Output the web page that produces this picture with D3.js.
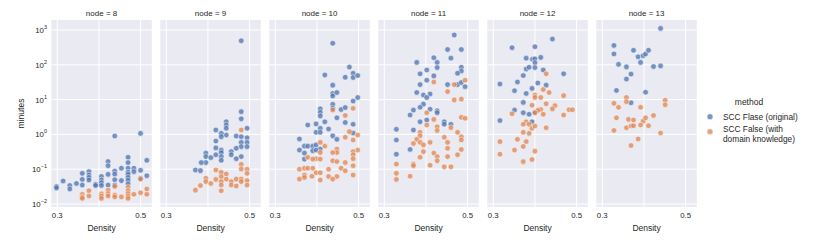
<!DOCTYPE html>
<html>
<head>
<meta charset="utf-8">
<script src="https://cdn.jsdelivr.net/npm/d3@7"></script>
<style>
  body { margin: 0; background: #fff; }
  text { font-family: "Liberation Sans", Arial, sans-serif; fill: #262626; }
</style>
</head>
<body>
<svg id="chart" width="830" height="243"></svg>
<script>
// facet values and tick labels
var nodes = [8, 9, 10, 11, 12, 13];
var methods = ["SCC Flase (original)", "SCC False (with domain knowledge)"];
var xTicks = [0.3, 0.4, 0.5];
var xTickLabels = ["0.3", "", "0.5"];
var yTicks = [-2, -1, 0, 1, 2, 3];

// [density, minutes] per node, original method
var orig8 = [[0.298,0.032],[0.298,0.029],[0.314,0.046],[0.33,0.034],[0.33,0.027],[0.346,0.039],
  [0.36,0.076],[0.36,0.051],[0.36,0.035],[0.376,0.085],[0.376,0.068],[0.376,0.058],[0.376,0.049],
  [0.392,0.037],[0.392,0.034],[0.406,0.062],[0.406,0.049],[0.406,0.041],[0.406,0.034],
  [0.422,0.166],[0.422,0.126],[0.422,0.071],[0.422,0.035],
  [0.438,0.9],[0.438,0.089],[0.438,0.072],[0.438,0.05],[0.438,0.035],[0.454,0.107],[0.454,0.047],
  [0.47,0.22],[0.47,0.155],[0.47,0.107],[0.47,0.082],[0.47,0.071],[0.47,0.058],[0.47,0.048],[0.47,0.038],
  [0.484,0.107],[0.484,0.085],[0.5,1.07],[0.5,0.093],[0.5,0.055],[0.515,0.18],[0.515,0.065]];
var orig9 = [[0.48,490],[0.48,4.5],[0.48,2.8],[0.444,2.3],[0.444,1.86],[0.444,1.5],[0.444,0.96],
  [0.432,1.07],[0.432,0.86],[0.419,1.34],[0.419,0.645],[0.419,0.41],[0.419,0.26],
  [0.432,0.355],[0.432,0.3],[0.432,0.23],[0.432,0.18],[0.494,1.5],[0.468,0.9],
  [0.48,0.86],[0.48,0.59],[0.48,0.445],[0.48,0.23],[0.494,0.8],[0.494,0.59],[0.494,0.445],
  [0.468,0.4],[0.468,0.2],[0.456,0.32],[0.456,0.26],[0.395,0.29],[0.395,0.23],[0.395,0.155],
  [0.407,0.215],[0.384,0.155],[0.37,0.095],[0.382,0.091]];
var orig10 = [[0.438,415],[0.478,86],[0.487,57],[0.487,43],[0.498,49],[0.468,44],[0.419,51],
  [0.438,26],[0.438,15],[0.438,12.7],[0.448,16],[0.438,7.3],[0.438,5.6],[0.458,5.2],[0.468,5.9],
  [0.498,11.5],[0.487,9.1],[0.408,5.4],[0.408,4.3],[0.408,3.4],[0.448,3.0],[0.468,2.2],[0.487,1.95],
  [0.419,2.3],[0.378,1.86],[0.398,2.0],[0.408,1.5],[0.398,1.15],[0.408,1.15],[0.428,1.43],
  [0.438,0.91],[0.448,0.72],[0.487,1.1],[0.358,0.74],[0.358,0.355],[0.37,0.46],[0.378,0.46],
  [0.39,0.46],[0.398,0.5],[0.37,0.29],[0.39,0.34],[0.408,0.38],[0.398,0.355],[0.37,0.195]];
var orig11 = [[0.468,720],[0.452,275],[0.485,275],[0.419,160],[0.46,155],[0.378,117],[0.427,117],
  [0.427,83],[0.485,85],[0.485,66],[0.476,57],[0.402,71],[0.386,55],[0.419,48],
  [0.402,36],[0.386,27],[0.452,27],[0.476,27],[0.485,31],[0.494,23.5],
  [0.378,16],[0.394,13.5],[0.41,14.5],[0.402,11.5],[0.394,7.4],[0.386,6.0],[0.37,5.0],[0.362,3.6],
  [0.41,5.3],[0.427,4.8],[0.427,4.2],[0.402,2.6],[0.386,2.3],[0.444,2.3],[0.444,1.95],[0.46,1.95],
  [0.329,1.4],[0.37,1.34],[0.329,0.69],[0.329,0.27],[0.362,0.37]];
var orig12 = [[0.442,550],[0.345,310],[0.40,330],[0.379,155],[0.394,145],[0.40,148],[0.40,115],
  [0.414,163],[0.379,76],[0.386,85],[0.40,83],[0.42,71],[0.372,49],[0.469,55],
  [0.316,28],[0.358,32],[0.407,30],[0.427,26],[0.351,18],[0.393,21],[0.379,15],[0.372,8.3],
  [0.351,5.0],[0.372,4.2],[0.386,3.8],[0.40,4.3],[0.316,2.5],[0.393,2.3]];
var orig13 = [[0.44,1110],[0.328,360],[0.328,205],[0.375,262],[0.386,170],[0.398,182],[0.404,205],
  [0.411,262],[0.392,117],[0.339,103],[0.358,87],[0.423,89],[0.44,93],[0.369,54],[0.358,39],
  [0.334,18.3],[0.404,16.3],[0.369,8.1]];

// [density, minutes] per node, with domain knowledge
var dk8 = [[0.36,0.019],[0.36,0.016],[0.36,0.0145],[0.376,0.024],[0.376,0.017],
  [0.406,0.0195],[0.406,0.017],[0.406,0.0145],[0.422,0.025],[0.422,0.02],[0.422,0.017],
  [0.438,0.032],[0.438,0.018],[0.438,0.016],[0.454,0.016],
  [0.47,0.03],[0.47,0.024],[0.47,0.02],[0.47,0.017],[0.47,0.0145],[0.484,0.019],
  [0.5,0.052],[0.5,0.021],[0.515,0.027],[0.515,0.019]];
var dk9 = [[0.48,1.34],[0.419,0.095],[0.432,0.081],[0.432,0.061],[0.432,0.044],[0.432,0.035],
  [0.432,0.024],[0.444,0.073],[0.444,0.052],[0.419,0.051],[0.395,0.055],[0.395,0.044],
  [0.407,0.039],[0.382,0.034],[0.37,0.025],[0.456,0.044],[0.456,0.035],[0.468,0.052],[0.468,0.033],
  [0.48,0.138],[0.48,0.102],[0.48,0.052],[0.48,0.044],[0.494,0.1],[0.494,0.076],[0.494,0.047],[0.494,0.035]];
var dk10 = [[0.438,5.0],[0.487,5.6],[0.468,3.5],[0.478,1.2],[0.468,0.83],[0.498,0.96],[0.487,0.69],
  [0.408,0.59],[0.419,0.46],[0.448,0.38],[0.448,0.3],[0.438,0.3],
  [0.498,0.355],[0.487,0.32],[0.487,0.26],[0.487,0.2],[0.408,0.3],[0.398,0.2],[0.408,0.195],
  [0.378,0.22],[0.39,0.195],[0.438,0.175],[0.448,0.166],[0.468,0.155],[0.487,0.126],
  [0.358,0.1],[0.37,0.107],[0.378,0.107],[0.39,0.107],[0.428,0.1],[0.458,0.107],[0.468,0.09],
  [0.398,0.079],[0.408,0.079],[0.37,0.068],[0.388,0.063],[0.358,0.052],[0.37,0.058],
  [0.428,0.062],[0.448,0.062],[0.438,0.052],[0.408,0.049],[0.487,0.068]];
var dk11 = [[0.494,36],[0.468,27],[0.452,17],[0.419,32],[0.468,9.8],[0.485,10.3],
  [0.402,4.2],[0.419,2.7],[0.485,3.1],[0.494,2.9],[0.402,1.86],[0.427,1.66],[0.427,1.29],
  [0.46,1.55],[0.476,1.15],[0.386,1.15],[0.386,0.91],[0.444,0.83],[0.485,0.86],[0.485,0.69],
  [0.378,0.72],[0.386,0.59],[0.41,0.59],[0.452,0.59],[0.394,0.5],[0.37,0.55],
  [0.394,0.32],[0.485,0.37],[0.419,0.29],[0.452,0.4],[0.452,0.23],[0.476,0.26],
  [0.386,0.22],[0.427,0.23],[0.427,0.175],[0.329,0.14],[0.37,0.14],[0.37,0.126],
  [0.41,0.13],[0.444,0.117],[0.46,0.117],[0.329,0.076],[0.329,0.051],[0.362,0.063]];
var dk12 = [[0.427,55],[0.42,19.5],[0.434,16],[0.469,13],[0.40,13.5],[0.40,11.5],
  [0.414,11.5],[0.427,7.6],[0.448,6.7],[0.442,5.4],[0.393,6.9],[0.414,5.2],
  [0.482,5.1],[0.49,5.1],[0.469,3.6],[0.345,3.9],[0.407,4.9],[0.40,4.2],[0.42,3.8],
  [0.379,2.3],[0.372,1.95],[0.386,1.95],[0.393,1.5],[0.40,1.74],[0.427,1.55],
  [0.386,1.07],[0.372,1.15],[0.358,0.72],[0.379,0.62],[0.316,0.62],[0.372,0.45],
  [0.351,0.355],[0.40,0.33],[0.316,0.27],[0.372,0.165],[0.393,0.19]];
var dk13 = [[0.358,11.5],[0.358,8.7],[0.328,7.8],[0.339,6.0],[0.392,6.0],[0.451,9.6],[0.451,7.1],
  [0.334,3.0],[0.363,2.7],[0.375,2.6],[0.398,2.4],[0.404,3.0],[0.423,3.5],
  [0.358,1.55],[0.369,1.74],[0.375,1.78],[0.392,1.86],[0.411,1.78],[0.328,1.3],[0.44,1.1],
  [0.386,0.74],[0.369,0.48]];

var origByNode = [orig8, orig9, orig10, orig11, orig12, orig13];
var dkByNode = [dk8, dk9, dk10, dk11, dk12, dk13];
var colors = ["#4C72B0", "#DD8452"];

var svg = d3.select("#chart");

// layout
var panelLeft = 51.3, panelStep = 109, panelW = 100.5;
var plotTop = 20, plotBottom = 207;

var x = d3.scaleLinear().domain([0.2856, 0.527]).range([0, panelW]);
var y = d3.scaleLog().domain([Math.pow(10, -2.086), Math.pow(10, 3.287)]).range([plotBottom, plotTop]);

nodes.forEach(function(n, i) {
  var g = svg.append("g").attr("transform", "translate(" + (panelLeft + i * panelStep) + ",0)");

  g.append("rect")
    .attr("x", 0).attr("y", plotTop)
    .attr("width", panelW).attr("height", plotBottom - plotTop)
    .attr("fill", "#EAEAF2");

  // grid
  g.selectAll("line.gx").data(xTicks).enter().append("line")
    .attr("x1", function(d) { return x(d); }).attr("x2", function(d) { return x(d); })
    .attr("y1", plotTop).attr("y2", plotBottom)
    .attr("stroke", "#fff").attr("stroke-width", 1);
  g.selectAll("line.gy").data(yTicks).enter().append("line")
    .attr("x1", 0).attr("x2", panelW)
    .attr("y1", function(d) { return y(Math.pow(10, d)); })
    .attr("y2", function(d) { return y(Math.pow(10, d)); })
    .attr("stroke", "#fff").attr("stroke-width", 1);

  // title
  g.append("text")
    .attr("x", panelW / 2).attr("y", 16)
    .attr("text-anchor", "middle").attr("font-size", 8)
    .text("node = " + n);

  // x tick labels
  g.selectAll("text.xt").data(xTicks).enter().append("text")
    .attr("x", function(d) { return x(d); }).attr("y", 218)
    .attr("text-anchor", "middle").attr("font-size", 7.8)
    .text(function(d, j) { return xTickLabels[j]; });

  g.append("text")
    .attr("x", panelW / 2).attr("y", 231)
    .attr("text-anchor", "middle").attr("font-size", 8.5)
    .text("Density");

  // points: original first, domain-knowledge on top
  [origByNode[i], dkByNode[i]].forEach(function(series, m) {
    g.selectAll(null).data(series).enter().append("circle")
      .attr("cx", function(d) { return x(d[0]); })
      .attr("cy", function(d) { return y(d[1]); })
      .attr("r", 2.8)
      .attr("fill", colors[m]).attr("fill-opacity", 0.75)
      .attr("stroke", "#fff").attr("stroke-width", 0.5);
  });
});

// y tick labels, first panel only
var yl = svg.append("g");
yTicks.forEach(function(e) {
  var t = yl.append("text")
    .attr("x", 47).attr("y", y(Math.pow(10, e)) + 3)
    .attr("text-anchor", "end").attr("font-size", 7.8);
  t.append("tspan").text("10");
  t.append("tspan").attr("dy", -4).attr("font-size", 5.5)
    .text(e < 0 ? "\u2212" + (-e) : String(e));
});

svg.append("text")
  .attr("transform", "translate(24," + ((plotTop + plotBottom) / 2) + ") rotate(-90)")
  .attr("text-anchor", "middle").attr("font-size", 8.5)
  .text("minutes");

// legend
var lg = svg.append("g").attr("transform", "translate(710,0)");
lg.append("text").attr("x", 39).attr("y", 104.5)
  .attr("text-anchor", "middle").attr("font-size", 8.5).text("method");
lg.append("circle").attr("cx", 0).attr("cy", 116.7).attr("r", 3)
  .attr("fill", colors[0]).attr("fill-opacity", 0.75).attr("stroke", "#fff").attr("stroke-width", 0.5);
lg.append("text").attr("x", 13).attr("y", 119.5).attr("font-size", 8.3).text(methods[0]);
lg.append("circle").attr("cx", 0).attr("cy", 131.7).attr("r", 3)
  .attr("fill", colors[1]).attr("fill-opacity", 0.75).attr("stroke", "#fff").attr("stroke-width", 0.5);
lg.append("text").attr("x", 13).attr("y", 132).attr("font-size", 8.3).text("SCC False (with");
lg.append("text").attr("x", 13).attr("y", 142).attr("font-size", 8.3).text("domain knowledge)");
</script>
</body>
</html>
